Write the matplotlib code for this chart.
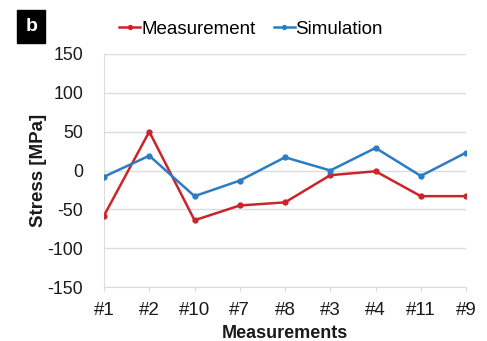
import matplotlib
matplotlib.use("Agg")
import matplotlib.pyplot as plt

plt.rcParams['font.family'] = ['Liberation Sans', 'DejaVu Sans']
plt.rcParams['axes.unicode_minus'] = False

categories = ['#1', '#2', '#10', '#7', '#8', '#3', '#4', '#11', '#9']
measurement = [-58, 50, -64, -45, -41, -6, -1, -33, -33]
simulation = [-8, 19, -33, -13, 17, 0, 29, -7, 23]
y_ticks = [-150, -100, -50, 0, 50, 100, 150]

red = '#c9252b'
blue = '#2b7cc4'
grid = '#dcdcdc'
text = '#1a1a1a'
fs = 13.5

fig = plt.figure(figsize=(4.87, 3.41), dpi=100)
ax = fig.add_axes([0.2136, 0.158, 0.7434, 0.684])

x = list(range(len(categories)))
ax.plot(x, measurement, color=red, lw=1.8, marker='o', ms=3.5, label='Measurement', zorder=3)
ax.plot(x, simulation, color=blue, lw=1.8, marker='o', ms=3.5, label='Simulation', zorder=3)

ax.set_xlim(0, len(categories) - 1)
ax.set_ylim(-150, 150)
ax.set_yticks(y_ticks)
ax.set_xticks(x)
ax.set_xticklabels(categories)
ax.yaxis.grid(True, color=grid, lw=1)
ax.set_axisbelow(True)

for s in ['top', 'right']:
    ax.spines[s].set_visible(False)
ax.spines['left'].set_color(grid)
ax.spines['bottom'].set_color(grid)
ax.tick_params(axis='y', length=0, labelsize=12.8, pad=15, labelcolor=text)
ax.tick_params(axis='x', length=3, width=1, color=grid, labelsize=fs, pad=8, labelcolor=text)

ax.set_ylabel('Stress [MPa]', fontsize=fs, fontweight='bold', labelpad=0, color=text)
ax.set_xlabel('Measurements', fontsize=13, fontweight='bold', labelpad=4, color=text)

fig.legend(loc='center', bbox_to_anchor=(0.516, 0.915), ncol=2, frameon=False,
           fontsize=fs, handlelength=1.1, handletextpad=0.05, columnspacing=1.0,
           borderaxespad=0, markerscale=0.8)

fig.text(0.064, 0.923, 'b', fontsize=14, fontweight='bold', color='white',
         ha='center', va='center',
         bbox=dict(boxstyle='square,pad=0.4', fc='black', ec='black'))

fig.savefig('out.png', dpi=100, facecolor='white')
